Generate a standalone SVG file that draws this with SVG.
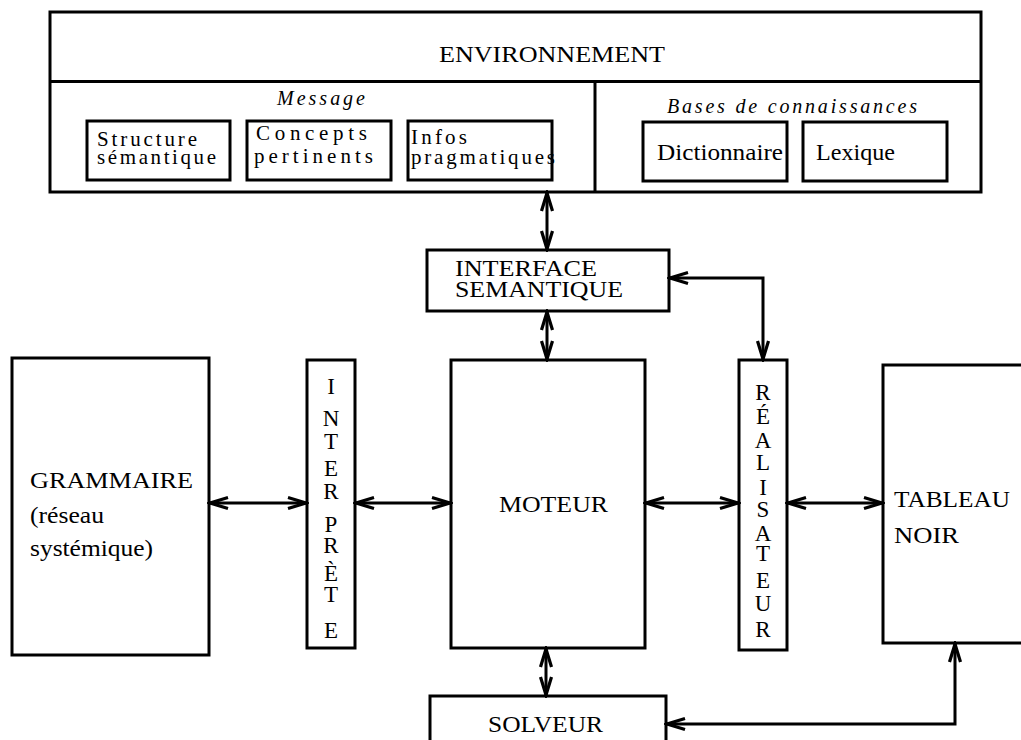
<svg xmlns="http://www.w3.org/2000/svg" width="1021" height="740" viewBox="0 0 1021 740">
<style>
.box{fill:none;stroke:#000;stroke-width:3}
.t{font-family:"Liberation Serif","DejaVu Serif",serif;fill:#000}
.big{font-size:24px}
.mid{font-size:23px}
.sm{font-size:21px}
.it{font-family:"Liberation Serif","DejaVu Serif",serif;font-style:italic;font-size:20px;fill:#000}
.col{font-family:"Liberation Serif","DejaVu Serif",serif;font-size:23px;fill:#000;text-anchor:middle}
.con{fill:none;stroke:#000;stroke-width:3}
</style>
<defs>
<marker id="ah" viewBox="-22 -8 24 16" refX="0" refY="0" markerWidth="24" markerHeight="16" markerUnits="userSpaceOnUse" orient="auto-start-reverse">
<path d="M-19,-5.5 L-1,0 L-19,5.5" fill="none" stroke="#000" stroke-width="3.2"/>
</marker>
</defs>
<rect width="1021" height="740" fill="#fff"/>

<g id="environnement">
<rect class="box" x="50" y="12" width="931" height="180"/>
<line class="box" x1="50" y1="81.5" x2="981" y2="81.5"/>
<line class="box" x1="595" y1="81.5" x2="595" y2="192"/>
<text class="t big" x="439" y="62" textLength="226" lengthAdjust="spacingAndGlyphs">ENVIRONNEMENT</text>
<text class="it" x="277" y="105" textLength="88" lengthAdjust="spacing">Message</text>
<text class="it" x="667" y="113" textLength="250" lengthAdjust="spacing">Bases de connaissances</text>
</g>

<g id="structure">
<rect class="box" x="87" y="121" width="143" height="59"/>
<text class="t sm" x="97" y="146" textLength="100" lengthAdjust="spacing">Structure</text>
<text class="t sm" x="97" y="164" textLength="119" lengthAdjust="spacing">sémantique</text>
</g>
<g id="concepts">
<rect class="box" x="247" y="121" width="144" height="59"/>
<text class="t sm" x="256" y="140" textLength="111" lengthAdjust="spacing">Concepts</text>
<text class="t sm" x="254" y="163" textLength="119" lengthAdjust="spacing">pertinents</text>
</g>
<g id="infos">
<text class="t sm" x="411" y="144" textLength="56" lengthAdjust="spacing">Infos</text>
<text class="t sm" x="411" y="164" textLength="144" lengthAdjust="spacing">pragmatiques</text>
<rect class="box" x="408" y="121" width="144" height="59"/>
</g>
<g id="dictionnaire">
<rect class="box" x="643" y="122" width="144" height="59"/>
<text class="t mid" x="657" y="160" textLength="126" lengthAdjust="spacingAndGlyphs">Dictionnaire</text>
</g>
<g id="lexique">
<rect class="box" x="803" y="122" width="144" height="59"/>
<text class="t mid" x="816" y="160" textLength="79" lengthAdjust="spacingAndGlyphs">Lexique</text>
</g>

<g id="interface">
<rect class="box" x="427" y="250" width="242" height="61"/>
<text class="t big" x="455" y="276" textLength="142" lengthAdjust="spacingAndGlyphs">INTERFACE</text>
<text class="t big" x="455" y="297" textLength="168" lengthAdjust="spacingAndGlyphs">SEMANTIQUE</text>
</g>

<g id="grammaire">
<rect class="box" x="12" y="358" width="197" height="297"/>
<text class="t big" x="30" y="488" textLength="163" lengthAdjust="spacingAndGlyphs">GRAMMAIRE</text>
<text class="t big" x="30" y="523" textLength="74" lengthAdjust="spacingAndGlyphs">(réseau</text>
<text class="t big" x="30" y="556" textLength="123" lengthAdjust="spacingAndGlyphs">systémique)</text>
</g>

<g id="interprete">
<rect class="box" x="307" y="360" width="48" height="288"/>
<text class="col" x="331" y="394">I</text>
<text class="col" x="331" y="426">N</text>
<text class="col" x="331" y="449">T</text>
<text class="col" x="331" y="476">E</text>
<text class="col" x="331" y="499">R</text>
<text class="col" x="331" y="532">P</text>
<text class="col" x="331" y="553">R</text>
<text class="col" x="331" y="581">È</text>
<text class="col" x="331" y="602">T</text>
<text class="col" x="331" y="638">E</text>
</g>

<g id="moteur">
<rect class="box" x="451" y="360" width="194" height="288"/>
<text class="t big" x="499" y="512" textLength="109" lengthAdjust="spacingAndGlyphs">MOTEUR</text>
</g>

<g id="realisateur">
<rect class="box" x="739" y="360" width="48" height="290"/>
<text class="col" x="763" y="400">R</text>
<text class="col" x="763" y="424">É</text>
<text class="col" x="763" y="448">A</text>
<text class="col" x="763" y="470">L</text>
<text class="col" x="763" y="495">I</text>
<text class="col" x="763" y="517">S</text>
<text class="col" x="763" y="541">A</text>
<text class="col" x="763" y="561">T</text>
<text class="col" x="763" y="588">E</text>
<text class="col" x="763" y="611">U</text>
<text class="col" x="763" y="637">R</text>
</g>

<g id="tableau">
<rect class="box" x="883" y="365" width="150" height="278"/>
<text class="t big" x="894" y="507" textLength="116" lengthAdjust="spacingAndGlyphs">TABLEAU</text>
<text class="t big" x="894" y="543" textLength="65" lengthAdjust="spacingAndGlyphs">NOIR</text>
</g>

<g id="solveur">
<rect class="box" x="430" y="696" width="236" height="60"/>
<text class="t big" x="488" y="732" textLength="115" lengthAdjust="spacingAndGlyphs">SOLVEUR</text>
</g>

<g id="connectors">
<path class="con" d="M547,192 L547,250" marker-start="url(#ah)" marker-end="url(#ah)"/>
<path class="con" d="M547,311 L547,360" marker-start="url(#ah)" marker-end="url(#ah)"/>
<path class="con" d="M669,278 L763,278 L763,360" marker-start="url(#ah)" marker-end="url(#ah)"/>
<path class="con" d="M209,503 L307,503" marker-start="url(#ah)" marker-end="url(#ah)"/>
<path class="con" d="M355,503 L451,503" marker-start="url(#ah)" marker-end="url(#ah)"/>
<path class="con" d="M645,503 L739,503" marker-start="url(#ah)" marker-end="url(#ah)"/>
<path class="con" d="M787,503 L883,503" marker-start="url(#ah)" marker-end="url(#ah)"/>
<path class="con" d="M546,648 L546,696" marker-start="url(#ah)" marker-end="url(#ah)"/>
<path class="con" d="M666,724 L955,724 L955,643" marker-start="url(#ah)" marker-end="url(#ah)"/>
</g>
</svg>
